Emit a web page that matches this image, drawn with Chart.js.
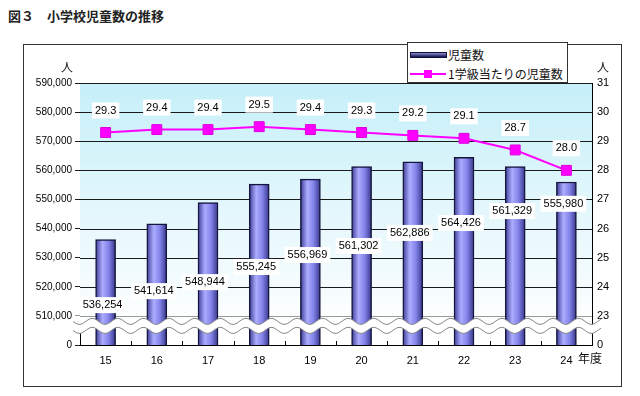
<!DOCTYPE html>
<html lang="ja">
<head>
<meta charset="utf-8">
<script src="https://cdn.jsdelivr.net/npm/chart.js@4"></script>
<style>
  body { margin: 0; background: #fff; }
  #wrap { position: relative; width: 640px; height: 396px; overflow: hidden; }
  #title { position: absolute; left: 8px; top: 6px; font: bold 13px "Noto Sans CJK JP"; color: #222; white-space: pre; }
  #frame { position: absolute; left: 23px; top: 44px; width: 599px; height: 343px; border: 1.5px solid #333; box-sizing: border-box; }
  canvas { position: absolute; left: 0; top: 0; }
  .unit { position: absolute; font: 12px "Noto Sans CJK JP"; color: #111; }
  #legend { position: absolute; left: 407px; top: 42px; width: 161px; height: 41px; border: 1px solid #333; background: #fff; box-sizing: border-box; font: 12px "Noto Sans CJK JP"; color: #111; }
  #legend .row { position: absolute; left: 2px; height: 18px; line-height: 18px; white-space: nowrap; }
  #legend .sw { display: inline-block; position: relative; width: 37px; height: 18px; vertical-align: top; margin-right: 1px; }
</style>
</head>
<body>
<div id="wrap">
  <div id="title">図３　小学校児童数の推移</div>
  <div id="frame"></div>
  <canvas id="chart" width="640" height="396"></canvas>
  <div class="unit" style="left:61px;top:58px;">人</div>
  <div class="unit" style="left:597px;top:58px;">人</div>
  <div class="unit" style="left:578px;top:349px;">年度</div>
  <div id="legend"></div>
</div>
<script>
/* chart data */
const years = ['15', '16', '17', '18', '19', '20', '21', '22', '23', '24'];
const pupils = [536254, 541614, 548944, 555245, 556969, 561302, 562886, 564426, 561329, 555980];
const perClass = [29.3, 29.4, 29.4, 29.5, 29.4, 29.3, 29.2, 29.1, 28.7, 28.0];
const pupilRange = [500000, 590000];   // bottom value is shown as "0" (broken axis)
const classRange = [22, 31];
const seriesNames = ['児童数', '1学級当たりの児童数'];

const numFont = '"Liberation Sans", Arial, sans-serif';

/* cylinder-like gradient for each bar */
function barFill(c) {
  const ch = c.chart;
  if (!ch.chartArea || !ch.scales.x) return '#8080e8';
  const x = ch.scales.x.getPixelForValue(c.dataIndex);
  const g = ch.ctx.createLinearGradient(x - 10, 0, x + 10, 0);
  g.addColorStop(0, '#3c3c96');
  g.addColorStop(0.35, '#acacff');
  g.addColorStop(0.65, '#8484ea');
  g.addColorStop(1, '#36368a');
  return g;
}

function boxText(ctx, txt, x, y, font) {
  ctx.font = font;
  const w = ctx.measureText(txt).width;
  ctx.fillStyle = '#fff';
  ctx.fillRect(x - w / 2 - 3, y - 8, w + 6, 16);
  ctx.fillStyle = '#000';
  ctx.textAlign = 'center';
  ctx.textBaseline = 'middle';
  ctx.fillText(txt, x, y);
}

// light cyan fading background of the plot area
const plotBackground = {
  id: 'plotBackground',
  beforeDatasetsDraw(chart) {
    const { ctx, chartArea: a } = chart;
    const bottom = chart.scales.y.getPixelForValue(505000);
    const g = ctx.createLinearGradient(0, a.top, 0, bottom);
    g.addColorStop(0, '#c6eff9');
    g.addColorStop(1, '#ffffff');
    ctx.save();
    ctx.fillStyle = g;
    ctx.fillRect(a.left, a.top, a.right - a.left, bottom - a.top);
    // draw grid again over the fill
    const y = chart.scales.y;
    y.ticks.forEach(t => {
      if (t.value <= pupilRange[0]) return;
      const py = Math.round(y.getPixelForValue(t.value)) + 0.5;
      ctx.strokeStyle = t.value === 510000 ? '#999' : '#1a1a1a';
      ctx.lineWidth = 1;
      ctx.beginPath();
      ctx.moveTo(a.left, py);
      ctx.lineTo(a.right, py);
      ctx.stroke();
    });
    // small inner ticks between categories
    const x = chart.scales.x;
    ctx.strokeStyle = '#000';
    for (let i = 0; i < years.length - 1; i++) {
      const px = Math.round((x.getPixelForValue(i) + x.getPixelForValue(i + 1)) / 2) + 0.5;
      ctx.beginPath();
      ctx.moveTo(px, a.bottom);
      ctx.lineTo(px, a.bottom - 4);
      ctx.stroke();
    }
    ctx.restore();
  }
};

// wavy break between 0 and 510,000
function wavePath(ctx, x0, x1, yc, amp, period) {
  ctx.moveTo(x0, yc + amp * Math.sin((x0 - x0) / period * Math.PI * 2));
  for (let x = x0; x <= x1; x += 1) {
    ctx.lineTo(x, yc + amp * Math.sin((x - x0) / period * Math.PI * 2));
  }
}
const axisBreak = {
  id: 'axisBreak',
  afterDatasetsDraw(chart) {
    const { ctx, chartArea: a } = chart;
    const base = chart.scales.y.getPixelForValue(510000);
    const x0 = a.left - 7, x1 = a.right + 9;
    const up = base + 5.5, low = base + 14.5, amp = 3, period = 25.6;
    ctx.save();
    ctx.beginPath();
    wavePath(ctx, x0, x1, up, amp, period);
    for (let x = x1; x >= x0; x -= 1) {
      ctx.lineTo(x, low + amp * Math.sin((x - x0) / period * Math.PI * 2));
    }
    ctx.closePath();
    ctx.fillStyle = '#fff';
    ctx.fill();
    ctx.strokeStyle = '#8a8a8a';
    ctx.lineWidth = 1;
    ctx.beginPath();
    wavePath(ctx, x0, x1, up, amp, period);
    ctx.stroke();
    ctx.beginPath();
    wavePath(ctx, x0, x1, low, amp, period);
    ctx.stroke();
    ctx.restore();
  }
};

// value labels in white boxes
const valueLabels = {
  id: 'valueLabels',
  afterDraw(chart) {
    const ctx = chart.ctx;
    const y = chart.scales.y;
    // bar labels were placed by hand in the original; level on the left axis
    const labelAt = [513700, 518500, 521600, 526800, 530900, 534000, 538500, 541900, 546000, 548500];
    ctx.save();
    chart.getDatasetMeta(1).data.forEach((bar, i) => {
      boxText(ctx, pupils[i].toLocaleString('en-US'), bar.x - 3, y.getPixelForValue(labelAt[i]), '11px ' + numFont);
    });
    chart.getDatasetMeta(0).data.forEach((pt, i) => {
      boxText(ctx, perClass[i].toFixed(1), pt.x, pt.y - 22, '11px ' + numFont);
    });
    ctx.restore();
  }
};

const chart = new Chart(document.getElementById('chart'), {
  data: {
    labels: years,
    datasets: [
      {
        type: 'line',
        label: seriesNames[1],
        data: perClass,
        yAxisID: 'y2',
        order: 0,
        borderColor: '#ff00ff',
        borderWidth: 2,
        pointStyle: 'rect',
        pointRadius: 7,
        pointBackgroundColor: '#ff00ff',
        pointBorderColor: '#dd00dd',
        pointBorderWidth: 1
      },
      {
        type: 'bar',
        label: seriesNames[0],
        data: pupils,
        yAxisID: 'y',
        order: 1,
        barThickness: 20,
        backgroundColor: barFill,
        borderColor: '#15153e',
        borderWidth: 1.5,
        borderSkipped: false
      }
    ]
  },
  options: {
    responsive: false,
    animation: false,
    layout: { padding: { top: 83, left: 0, right: 0, bottom: 0 } },
    plugins: { legend: { display: false }, tooltip: { enabled: false } },
    scales: {
      x: {
        offset: true,
        grid: { display: true, drawOnChartArea: false, drawTicks: false },
        border: { display: true, color: '#000', width: 1 },
        ticks: { color: '#000', font: { family: numFont, size: 11 }, padding: 9 },
        afterFit(s) { s.height = 51; }
      },
      y: {
        position: 'left',
        min: pupilRange[0],
        max: pupilRange[1],
        grid: {
          color: c => c.tick && c.tick.value === 510000 ? '#999' : '#1a1a1a',
          tickLength: 5,
          lineWidth: 1
        },
        border: { display: true, color: '#000', width: 1 },
        ticks: {
          stepSize: 10000,
          padding: 3,
          color: '#000',
          font: { family: numFont, size: 10 },
          callback: v => v === pupilRange[0] ? '0' : v.toLocaleString('en-US')
        },
        afterFit(s) { s.width = 80; }
      },
      y2: {
        position: 'right',
        min: classRange[0],
        max: classRange[1],
        grid: { drawOnChartArea: false, drawTicks: false },
        border: { display: true, color: '#000', width: 1 },
        ticks: {
          stepSize: 1,
          padding: 5,
          color: '#000',
          font: { family: numFont, size: 11 },
          callback: v => v === classRange[0] ? '0' : v
        },
        afterFit(s) { s.width = 48; }
      }
    }
  },
  plugins: [plotBackground, axisBreak, valueLabels]
});

/* legend built from the datasets */
const legend = document.getElementById('legend');
chart.data.datasets.slice().reverse().forEach((ds, i) => {
  const row = document.createElement('div');
  row.className = 'row';
  row.style.top = (i === 0 ? 3 : 22) + 'px';
  const sw = document.createElement('span');
  sw.className = 'sw';
  if (ds.type === 'bar') {
    sw.innerHTML = '<i style="position:absolute;left:0;top:6px;width:37px;height:6px;background:linear-gradient(#8a8ad0,#14144a);border:1px solid #10103a;box-sizing:border-box"></i>';
  } else {
    sw.innerHTML = '<i style="position:absolute;left:0;top:8px;width:36px;height:2px;background:' + ds.borderColor + '"></i>' +
      '<i style="position:absolute;left:14px;top:5px;width:8px;height:8px;background:' + ds.pointBackgroundColor + '"></i>';
  }
  row.appendChild(sw);
  row.appendChild(document.createTextNode(ds.label));
  legend.appendChild(row);
});
</script>
</body>
</html>
